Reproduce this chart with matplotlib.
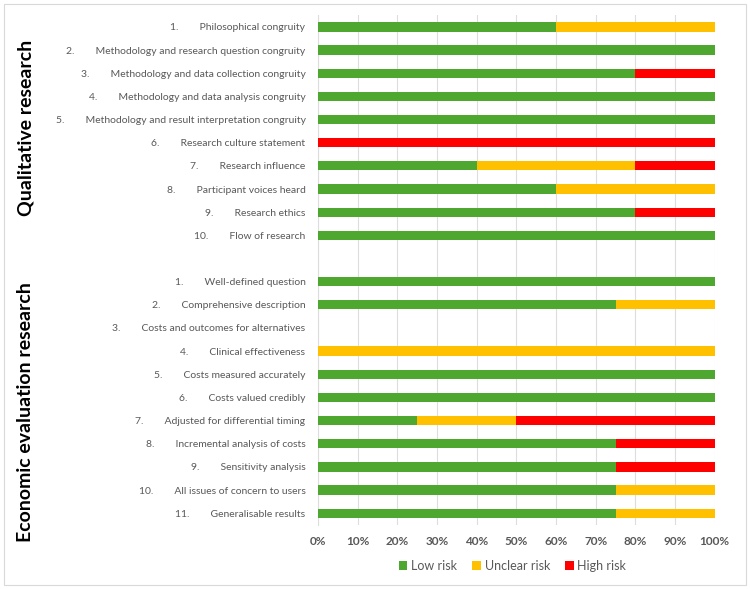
import matplotlib
matplotlib.use("Agg")
import matplotlib.pyplot as plt
import numpy as np
from matplotlib.patches import Rectangle

plt.rcParams["font.family"] = ["Lato", "DejaVu Sans"]

# ---- data -----------------------------------------------------------------
qual_items = [
    "Philosophical congruity",
    "Methodology and research question congruity",
    "Methodology and data collection congruity",
    "Methodology and data analysis congruity",
    "Methodology and result interpretation congruity",
    "Research culture statement",
    "Research influence",
    "Participant voices heard",
    "Research ethics",
    "Flow of research",
]
qual_low     = [60, 100, 80, 100, 100, 0, 40, 60, 80, 100]
qual_unclear = [40, 0, 0, 0, 0, 0, 40, 40, 0, 0]
qual_high    = [0, 0, 20, 0, 0, 100, 20, 0, 20, 0]

econ_items = [
    "Well-defined question",
    "Comprehensive description",
    "Costs and outcomes for alternatives",
    "Clinical effectiveness",
    "Costs measured accurately",
    "Costs valued credibly",
    "Adjusted for differential timing",
    "Incremental analysis of costs",
    "Sensitivity analysis",
    "All issues of concern to users",
    "Generalisable results",
]
econ_low     = [100, 75, 0, 0, 100, 100, 25, 75, 75, 75, 75]
econ_unclear = [0, 25, 0, 100, 0, 0, 25, 0, 0, 25, 25]
econ_high    = [0, 0, 0, 0, 0, 0, 50, 25, 25, 0, 0]

categories = ["Low risk", "Unclear risk", "High risk"]
colors = ["#4EA72E", "#FFC000", "#FF0000"]

# ---- assemble rows (blank row between the two groups) ---------------------
labels = [f"{i + 1}.        {t}" for i, t in enumerate(qual_items)] + [""] + \
         [f"{i + 1}.        {t}" for i, t in enumerate(econ_items)]
low = np.array(qual_low + [0] + econ_low, dtype=float)
unclear = np.array(qual_unclear + [0] + econ_unclear, dtype=float)
high = np.array(qual_high + [0] + econ_high, dtype=float)
y = np.arange(len(labels))

fig = plt.figure(figsize=(7.5, 5.89), dpi=100)
ax = fig.add_axes([0.424, 0.109, 0.529, 0.865])

left = np.zeros_like(low)
for vals, name, c in zip((low, unclear, high), categories, colors):
    ax.barh(y, vals, left=left, height=0.4, color=c, label=name, zorder=3)
    left += vals

ax.set_ylim(len(labels) - 0.5, -0.5)
ax.set_xlim(0, 100)
ax.set_xticks(np.arange(0, 101, 10))
ax.set_xticklabels([f"{v}%" for v in range(0, 101, 10)],
                   fontsize=8.5, fontweight="bold", color="#595959")
ax.set_yticks(y)
ax.set_yticklabels(labels, fontsize=7.5, color="#595959")
ax.tick_params(axis="y", length=0, pad=9)
ax.tick_params(axis="x", length=0, pad=8)
ax.grid(axis="x", color="#DDDDDD", lw=0.8, zorder=0)
for s in ("top", "right", "bottom"):
    ax.spines[s].set_visible(False)
ax.spines["left"].set_color("#DDDDDD")

ax.legend(loc="upper center", bbox_to_anchor=(0.49, -0.047), ncol=3,
          frameon=False, fontsize=9, handlelength=0.7, handleheight=0.7,
          handletextpad=0.3, columnspacing=1.2, labelcolor="#595959")

fig.text(0.034, 1 - 128 / 589, "Qualitative research", rotation=90,
         ha="center", va="center", fontsize=14, fontweight="bold")
fig.text(0.034, 1 - 412 / 589, "Economic evaluation research", rotation=90,
         ha="center", va="center", fontsize=14, fontweight="bold")

fig.patches.append(Rectangle((0.005, 0.006), 0.99, 0.988, transform=fig.transFigure,
                             fill=False, edgecolor="#D9D9D9", lw=0.8))

fig.savefig("out.png", dpi=100, facecolor="white")
